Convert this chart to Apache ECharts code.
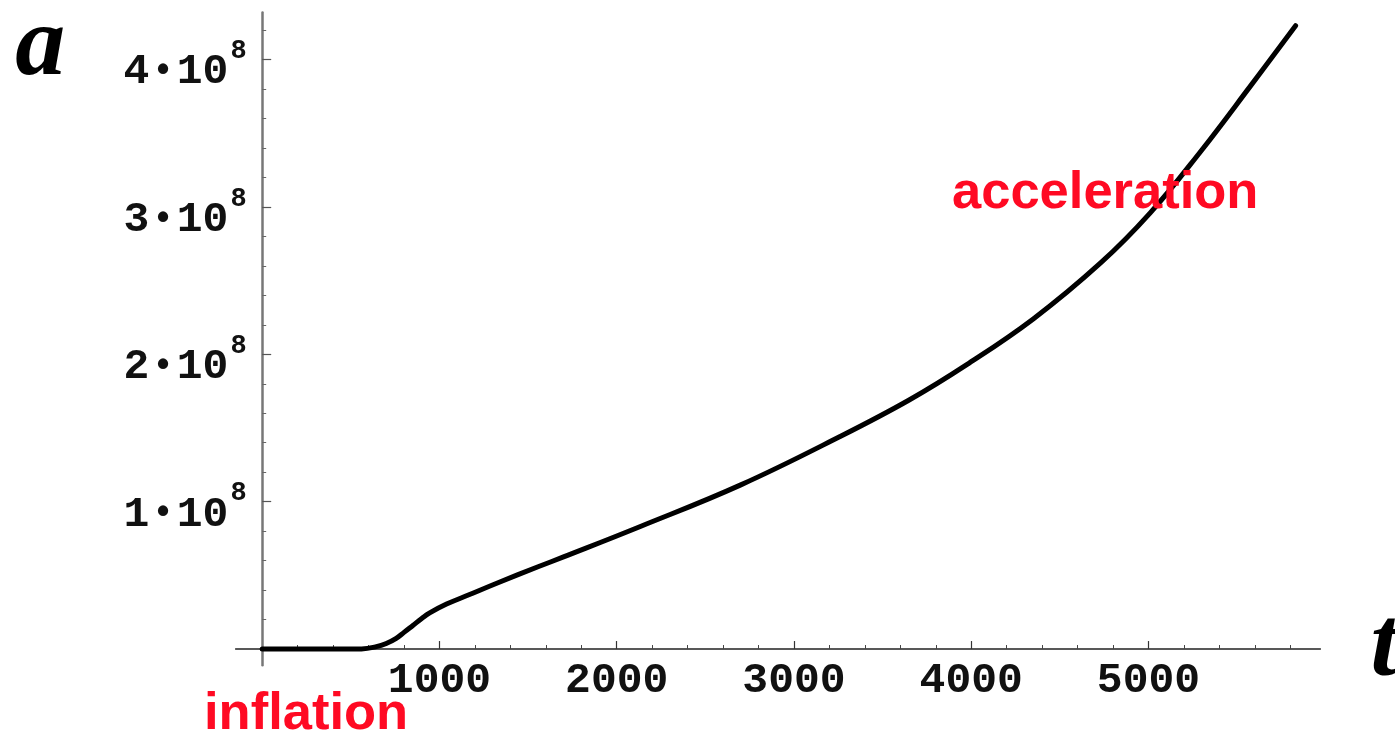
<!DOCTYPE html>
<html>
<head>
<meta charset="utf-8">
<title>Scale factor a(t)</title>
<script src="https://cdn.jsdelivr.net/npm/echarts@6/dist/echarts.min.js"></script>
<style>
  html, body { margin: 0; padding: 0; background: #fff; }
  #chart { width: 1395px; height: 734px; }
</style>
</head>
<body>
<div id="chart"></div>
<script>
// Cosmic time t and scale factor a(t): flat during inflation, then a slow rise and late acceleration
const timeValues = [0, 200, 400, 560, 644, 700, 756, 800, 850, 900, 945, 1040, 1170, 1320,
  1560, 1700, 2130, 2700, 3260, 3650, 3975, 4350, 4730, 5010, 5290, 5575, 5830];
const scaleFactor = [0, 0, 0, 0.001e8, 0.016e8, 0.038e8, 0.073e8, 0.113e8, 0.16e8, 0.207e8,
  0.245e8, 0.305e8, 0.37e8, 0.445e8, 0.56e8, 0.625e8, 0.83e8, 1.114e8, 1.442e8, 1.69e8,
  1.93e8, 2.24e8, 2.62e8, 2.96e8, 3.37e8, 3.82e8, 4.23e8];

// Tick positions
const xMajorTicks = [1000, 2000, 3000, 4000, 5000];
const xMinorTicks = [200, 400, 600, 800, 1200, 1400, 1600, 1800, 2200, 2400, 2600, 2800,
  3200, 3400, 3600, 3800, 4200, 4400, 4600, 4800, 5200, 5400, 5600, 5800];
const yMajorTicks = [1e8, 2e8, 3e8, 4e8];
const yMinorTicks = [0.2e8, 0.4e8, 0.6e8, 0.8e8, 1.2e8, 1.4e8, 1.6e8, 1.8e8, 2.2e8, 2.4e8,
  2.6e8, 2.8e8, 3.2e8, 3.4e8, 3.6e8, 3.8e8, 4.2e8];

const X_MIN = -150, X_MAX = 5970;
const Y_MIN = -0.11e8, Y_MAX = 4.32e8;

const gridBox = { left: 235.6, right: 74.6, top: 12.45, bottom: 68.75, outerBoundsMode: 'none' };
const labelFont = '"Liberation Mono", "DejaVu Sans Mono", monospace';
const nameFont = '"Liberation Serif", "DejaVu Serif", serif';

const chart = echarts.init(document.getElementById('chart'), null, { renderer: 'canvas' });

chart.setOption({
  animation: false,
  backgroundColor: '#ffffff',
  grid: [Object.assign({}, gridBox), Object.assign({}, gridBox)],
  xAxis: [
    {
      type: 'value', gridIndex: 0, min: X_MIN, max: X_MAX,
      name: 't', nameLocation: 'end', nameGap: 50,
      nameTextStyle: { fontFamily: nameFont, fontStyle: 'italic', fontWeight: 'bold',
        fontSize: 100, color: '#000', verticalAlign: 'middle' },
      axisLine: { onZero: true, lineStyle: { color: '#222', width: 1.5 } },
      axisTick: { show: true, inside: true, length: 8, customValues: xMajorTicks,
        lineStyle: { color: '#333', width: 1.2 } },
      axisLabel: { customValues: xMajorTicks, margin: -6, color: '#111',
        formatter: function (v) { return String(v); },
        fontFamily: labelFont, fontWeight: 'bold', fontSize: 43 },
      splitLine: { show: false }
    },
    {
      type: 'value', gridIndex: 1, min: X_MIN, max: X_MAX,
      axisLine: { show: true, onZero: true, lineStyle: { opacity: 0 } },
      axisTick: { show: true, inside: true, length: 4, customValues: xMinorTicks,
        lineStyle: { color: '#444', width: 1 } },
      axisLabel: { show: false },
      splitLine: { show: false }
    }
  ],
  yAxis: [
    {
      type: 'value', gridIndex: 0, min: Y_MIN, max: Y_MAX,
      name: 'a', nameLocation: 'end', nameGap: -36,
      nameTextStyle: { fontFamily: nameFont, fontStyle: 'italic', fontWeight: 'bold',
        fontSize: 100, color: '#000', align: 'right', verticalAlign: 'middle',
        padding: [0, 197, 0, 0] },
      axisLine: { onZero: true, lineStyle: { color: '#777', width: 2.5 } },
      axisTick: { show: true, inside: true, length: 9, customValues: yMajorTicks,
        lineStyle: { color: '#555', width: 1.2 } },
      axisLabel: {
        customValues: yMajorTicks, margin: -11,
        formatter: function (v) {
          const m = Math.round(v / 1e8);
          return '{n|' + m + '}{d|•}{n|10}{s|8}';
        },
        rich: {
          n: { fontFamily: labelFont, fontWeight: 'bold', fontSize: 43, lineHeight: 42,
            color: '#111', padding: [26, 0, 0, 0] },
          d: { fontFamily: labelFont, fontWeight: 'bold', fontSize: 36, lineHeight: 36,
            color: '#111', padding: [25, 3, 0, 3] },
          s: { fontFamily: labelFont, fontWeight: 'bold', fontSize: 27, lineHeight: 26,
            color: '#111', padding: [0, 0, 16, 2] }
        }
      },
      splitLine: { show: false }
    },
    {
      type: 'value', gridIndex: 1, min: Y_MIN, max: Y_MAX,
      axisLine: { show: true, onZero: true, lineStyle: { opacity: 0 } },
      axisTick: { show: true, inside: true, length: 4, customValues: yMinorTicks,
        lineStyle: { color: '#666', width: 1 } },
      axisLabel: { show: false },
      splitLine: { show: false }
    }
  ],
  series: [
    {
      type: 'line',
      xAxisIndex: 0, yAxisIndex: 0,
      data: timeValues.map((t, i) => [t, scaleFactor[i]]),
      showSymbol: false,
      smooth: 0.4,
      lineStyle: { color: '#000', width: 5, cap: 'round', join: 'round' },
      z: 5
    }
  ],
  graphic: [
    {
      type: 'text', z: 100, x: 952, y: 194,
      style: { text: 'acceleration', fill: '#ff0a23', align: 'left', verticalAlign: 'middle',
        font: 'bold 52.5px "Liberation Sans", Arial, sans-serif' }
    },
    {
      type: 'text', z: 100, x: 204, y: 715,
      style: { text: 'inflation', fill: '#ff0a23', align: 'left', verticalAlign: 'middle',
        font: 'bold 52.5px "Liberation Sans", Arial, sans-serif' }
    }
  ]
});
</script>
</body>
</html>
